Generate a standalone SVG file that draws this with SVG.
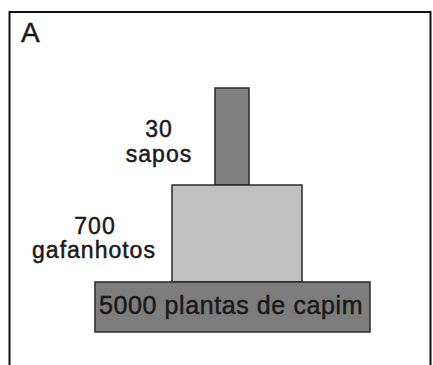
<svg xmlns="http://www.w3.org/2000/svg" width="433" height="365" viewBox="0 0 433 365">
<style>
text{font-family:"Liberation Sans",Arial,sans-serif;fill:#1a1a1a;stroke:#1a1a1a;stroke-width:0.5}
.lbl{font-size:23px;text-anchor:middle;letter-spacing:1px}
.bar{stroke:#2a2a2a;stroke-width:1.5}
</style>
<rect x="0" y="0" width="433" height="365" fill="#ffffff"/>
<g id="frame" fill="none" stroke="#111" stroke-width="2">
<path d="M9.5,365 V12 H430.5 V365"/>
</g>
<text x="21" y="42" font-size="28">A</text>
<g id="level3">
<rect class="bar" x="215" y="88" width="34" height="97" fill="#808080"/>
<text class="lbl" x="159" y="137">30</text>
<text class="lbl" x="159" y="162">sapos</text>
</g>
<g id="level2">
<rect class="bar" x="172" y="185" width="130" height="97" fill="#c0c0c0"/>
<text class="lbl" x="95" y="234">700</text>
<text class="lbl" x="94" y="258">gafanhotos</text>
</g>
<g id="level1">
<rect class="bar" x="95" y="282" width="275" height="50" fill="#7d7d7d"/>
<text class="lbl" x="231" y="314" style="font-size:25px;letter-spacing:0.6px">5000 plantas de capim</text>
</g>
<g id="connectors"/>
</svg>
